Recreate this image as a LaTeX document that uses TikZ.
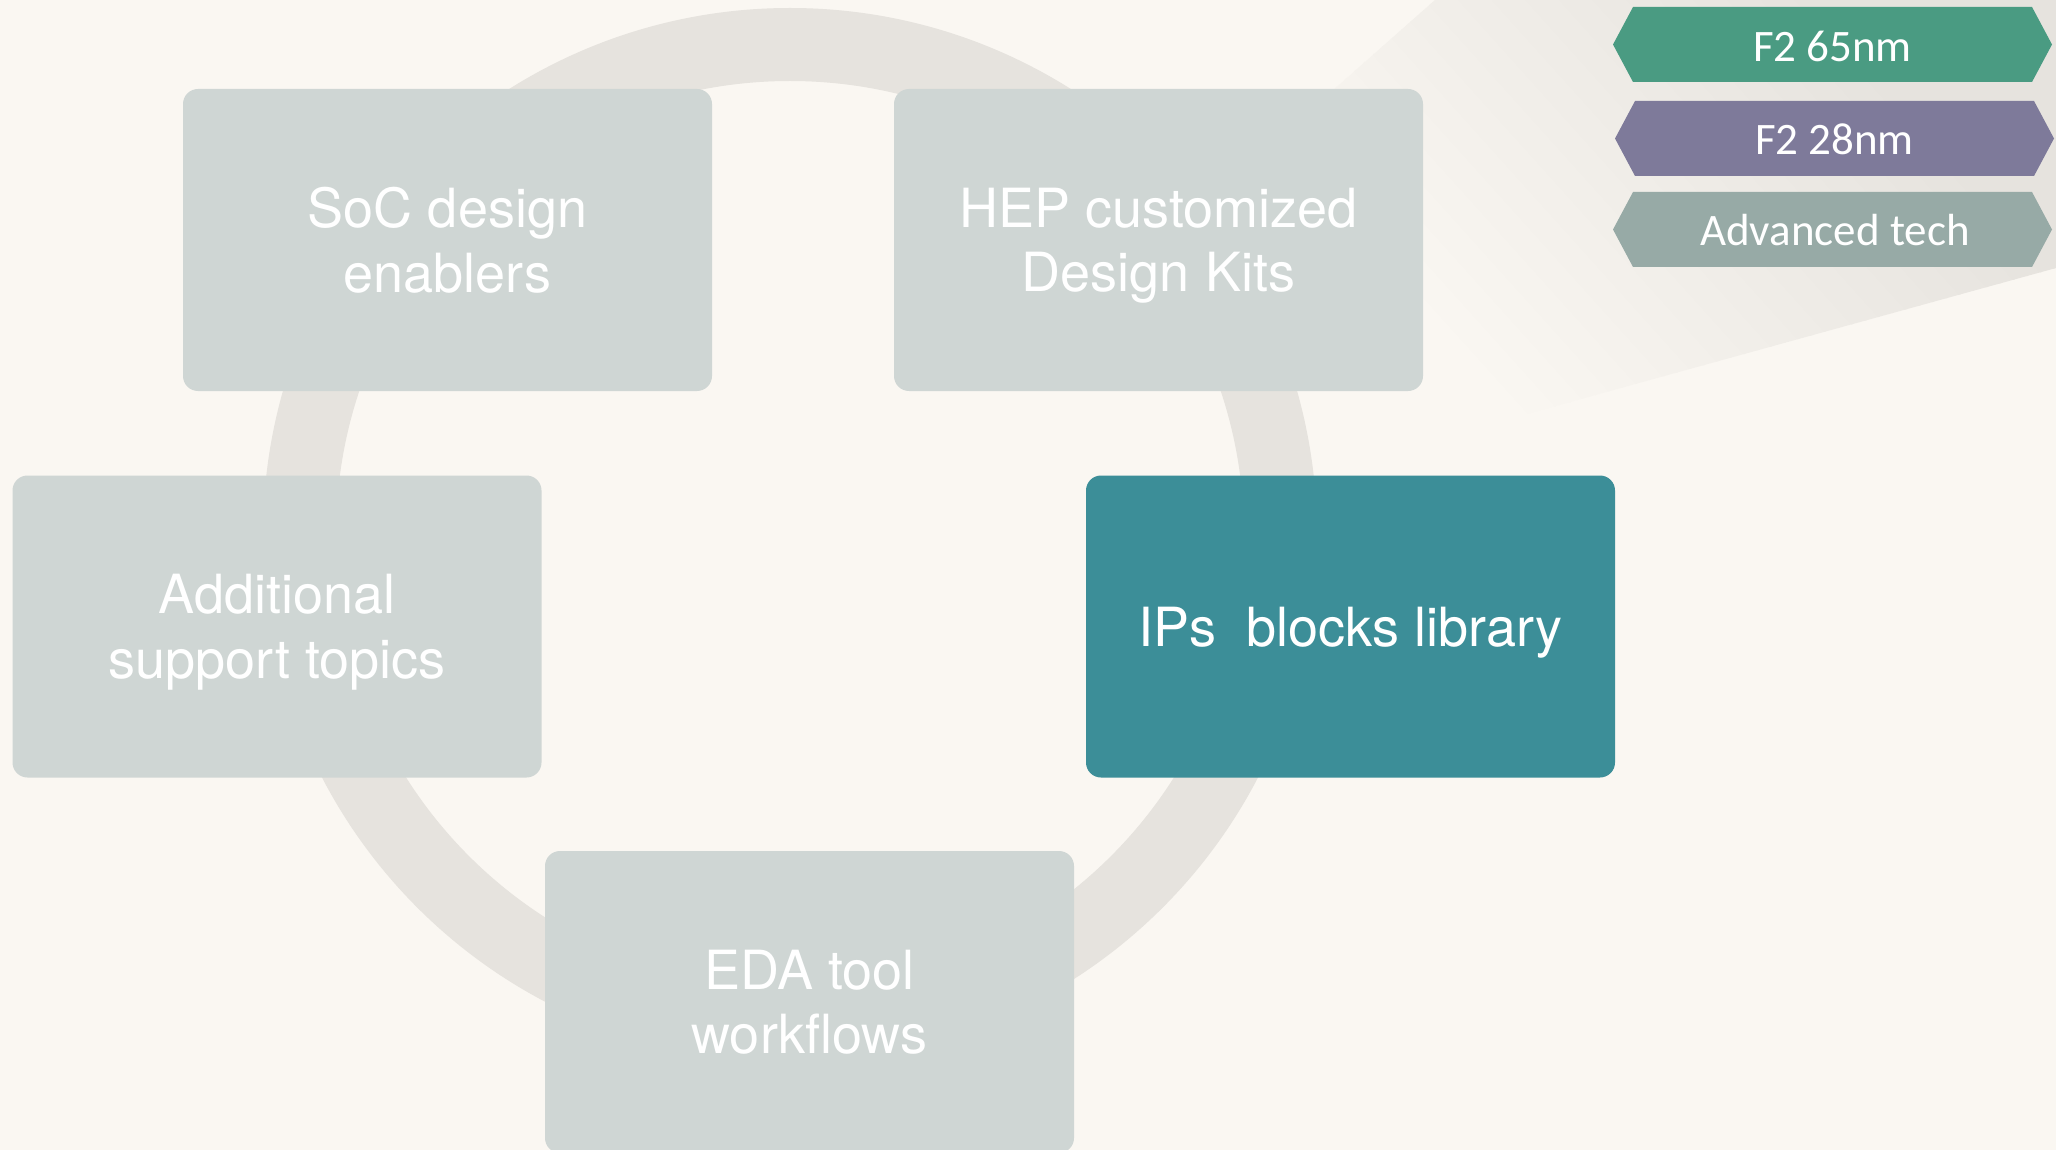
\documentclass[tikz,border=0pt]{standalone}
\usepackage{fontspec}
\setmainfont{TeX Gyre Heros}
\newfontfamily\tagfont{Carlito}
\definecolor{bgc}{HTML}{FAF7F2}
\definecolor{ringc}{HTML}{E6E3DE}
\definecolor{boxc}{HTML}{CFD6D4}
\definecolor{ipc}{HTML}{3C8E98}
\definecolor{tagA}{HTML}{4A9B82}
\definecolor{tagB}{HTML}{7E7A9A}
\definecolor{tagC}{HTML}{97AAA6}
\begin{document}
\begin{tikzpicture}[x=1pt,y=-1pt,
  box/.style={rounded corners=15pt, minimum width=529pt, minimum height=302pt, inner sep=0pt,
    align=center, text=white, font=\fontsize{54}{64.5}\selectfont, fill=boxc, text depth=0pt},
  tagtext/.style={text=white, font=\tagfont\fontsize{45}{50}\selectfont, inner sep=0pt, anchor=base}]
\fill[bgc] (0,0) rectangle (2056,1150);
\useasboundingbox (0,0) rectangle (2056,1150);
% callout wedge with a diagonal gradient
\begin{scope}
\clip (714,638) -- (1435,0) -- (2056,0) -- (2056,268) -- cycle;
\begin{scope}[shift={(1534,409)}, rotate=42]
\foreach \k in {0,...,39}{
  \pgfmathsetmacro{\pc}{(\k+0.5)*2.5}
  \pgfmathsetmacro{\sa}{-20+\k*12.5}
  \fill[ringc!\pc!bgc] (\sa,-1500) rectangle (\sa+14,1500);
}
\fill[ringc] (480,-1500) rectangle (1600,1500);
\end{scope}
\end{scope}
% ring
\draw[ringc, line width=73pt] (790,535) circle[radius=490.5];
% boxes
\node[box] (soc) at (447.5,240) {SoC design\\enablers};
\node[box] (hep) at (1158.5,240) {HEP customized\\Design Kits};
\node[box] (add) at (277,626.5) {Additional\\support topics};
\node[box, fill=ipc] (ips) at (1350.5,626.5) {IPs\ \ blocks library};
\node[box] (eda) at (809.5,1002) {EDA tool\\workflows};
% tags
\fill[tagA] (1613,44.5) -- (1633,7) -- (2032,7) -- (2052,44.5) -- (2032,82) -- (1633,82) -- cycle;
\fill[tagB] (1615,138.5) -- (1635,101) -- (2034,101) -- (2054,138.5) -- (2034,176) -- (1635,176) -- cycle;
\fill[tagC] (1613,229.5) -- (1633,192) -- (2032,192) -- (2052,229.5) -- (2032,267) -- (1633,267) -- cycle;
\node[tagtext] (t1) at (1832.5,61.7) {F2 65nm};
\node[tagtext] (t2) at (1834.5,155) {F2 28nm};
\node[tagtext] (t3) at (1835,246) {Advanced tech};
\end{tikzpicture}
\end{document}
